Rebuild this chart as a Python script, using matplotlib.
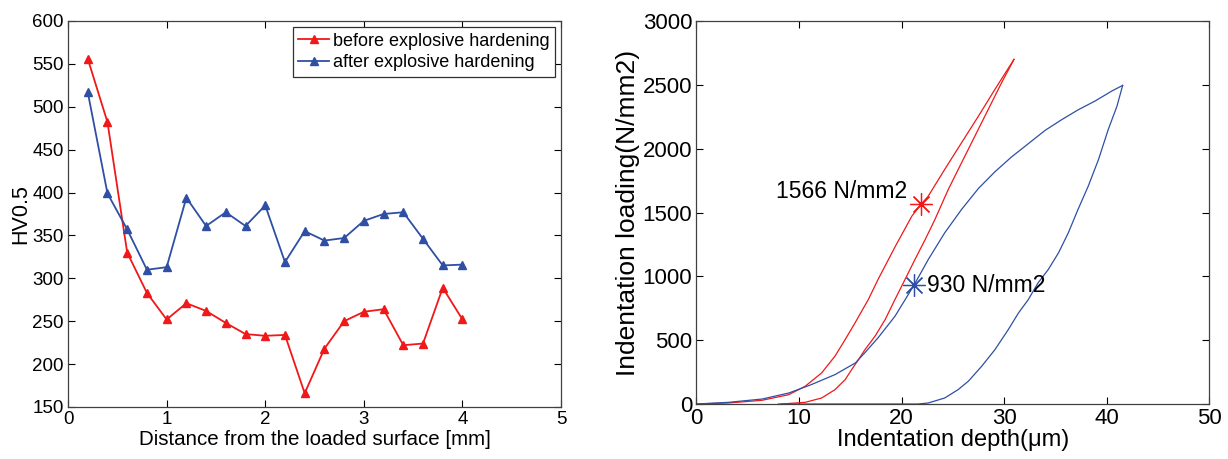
import numpy as np
import matplotlib
matplotlib.use("Agg")
import matplotlib.pyplot as plt

plt.rcParams['font.family'] = ['Liberation Sans', 'DejaVu Sans']

# --- left panel: hardness profile ---
distance = [0.2, 0.4, 0.6, 0.8, 1.0, 1.2, 1.4, 1.6, 1.8, 2.0,
            2.2, 2.4, 2.6, 2.8, 3.0, 3.2, 3.4, 3.6, 3.8, 4.0]
hv_before = [556, 482, 330, 283, 252, 271, 262, 248, 235, 233,
             234, 166, 218, 250, 261, 264, 222, 224, 289, 252]
hv_after = [517, 399, 357, 310, 313, 394, 361, 377, 361, 385,
            319, 355, 344, 347, 367, 375, 377, 346, 315, 316]

# --- right panel: indentation curves (depth in um, load in N/mm2) ---
red_load_depth = [0, 3.1, 6.4, 9.0, 10.6, 12.2, 13.5, 14.5, 15.46, 16.76,
                  17.7, 19.4, 21.0, 21.9, 22.6, 24.2, 25.85, 27.5, 29.1, 30.96]
red_load_force = [0, 8, 29, 73, 139, 243, 374, 505, 635, 819,
                  975, 1237, 1472, 1566, 1629, 1838, 2048, 2257, 2466, 2701]
red_unload_depth = [30.96, 29.75, 28.45, 27.15, 25.85, 24.55, 23.25, 22.3, 21.3,
                    20.33, 19.35, 18.4, 17.41, 16.43, 15.8, 15.13, 14.5, 13.5,
                    12.2, 10.6, 8.3]
red_unload_force = [2701, 2518, 2309, 2100, 1891, 1681, 1446, 1289, 1132,
                    975, 818, 662, 531, 426, 348, 269, 191, 112,
                    47, 13, 0]
blue_load_depth = [0, 3.1, 6.4, 9.0, 11.2, 13.5, 15.5, 16.4, 17.7, 19.36, 21.2,
                   22.6, 24.2, 25.85, 27.5, 29.1, 30.7, 32.35, 34.0, 35.6, 37.2,
                   38.85, 40.5, 41.55]
blue_load_force = [0, 13, 39, 86, 152, 230, 322, 400, 518, 688, 930,
                   1132, 1341, 1525, 1690, 1820, 1935, 2040, 2145, 2228, 2305,
                   2374, 2453, 2497]
blue_unload_depth = [41.55, 41.0, 40.15, 39.2, 38.2, 37.2, 36.25, 35.3, 34.3,
                     33.3, 32.35, 31.4, 30.4, 29.1, 27.8, 26.5, 25.5, 24.2,
                     22.6, 21.6, 8.0]
blue_unload_force = [2497, 2335, 2152, 1917, 1708, 1525, 1341, 1185, 1054,
                     949, 818, 714, 583, 426, 295, 178, 112, 47,
                     8, 0, 0]

red_mark = (21.9, 1566)
blue_mark = (21.2, 930)

RED = '#f01818'
BLUE = '#2f4fa5'

fig = plt.figure(figsize=(12.28, 4.59), dpi=100)
ax1 = fig.add_axes([0.0554, 0.1133, 0.4015, 0.841])
ax2 = fig.add_axes([0.5671, 0.1198, 0.4177, 0.834])

ax1.plot(distance, hv_before, color=RED, marker='^', ms=5.5, lw=1.3,
         label='before explosive hardening')
ax1.plot(distance, hv_after, color=BLUE, marker='^', ms=5.5, lw=1.3,
         label='after explosive hardening')
ax1.set_xlim(0, 5)
ax1.set_ylim(150, 600)
ax1.set_xticks(range(0, 6))
ax1.set_yticks(range(150, 601, 50))
ax1.tick_params(labelsize=13.5)
ax1.set_xlabel('Distance from the loaded surface [mm]', fontsize=14.8, labelpad=1)
ax1.set_ylabel('HV0.5', fontsize=15.5, labelpad=1)
leg = ax1.legend(loc='upper right', fontsize=13, fancybox=False,
                 edgecolor='#303030', framealpha=1, handlelength=1.7,
                 handletextpad=0.2, borderaxespad=0.35, borderpad=0.3,
                 labelspacing=0.25)
leg.get_frame().set_linewidth(0.9)

ax2.plot(red_load_depth, red_load_force, color=RED, lw=0.9)
ax2.plot(red_unload_depth, red_unload_force, color=RED, lw=0.9)
ax2.plot(blue_load_depth, blue_load_force, color=BLUE, lw=0.9)
ax2.plot(blue_unload_depth, blue_unload_force, color=BLUE, lw=0.9)
ax2.plot(*red_mark, marker=(8, 2, 0), ms=16, mew=0.9, color=RED)
ax2.plot(*blue_mark, marker=(8, 2, 0), ms=16, mew=0.9, color=BLUE)
ax2.text(20.5, 1663, '1566 N/mm2', fontsize=16.5, ha='right', va='center')
ax2.text(22.45, 931, '930 N/mm2', fontsize=16.5, ha='left', va='center')
ax2.set_xlim(0, 50)
ax2.set_ylim(0, 3000)
ax2.set_xticks(range(0, 51, 10))
ax2.set_yticks(range(0, 3001, 500))
ax2.tick_params(labelsize=16)
ax2.set_xlabel('Indentation depth(\u03bcm)', fontsize=17, labelpad=0)
ax2.set_ylabel('Indentation loading(N/mm2)', fontsize=19, labelpad=2)

for ax in (ax1, ax2):
    ax.tick_params(direction='in', top=True, right=True, length=5, width=0.8,
                   pad=3, colors='black')
    for s in ax.spines.values():
        s.set_color('#404040')
        s.set_linewidth(0.9)

fig.savefig('out.png', dpi=100)
